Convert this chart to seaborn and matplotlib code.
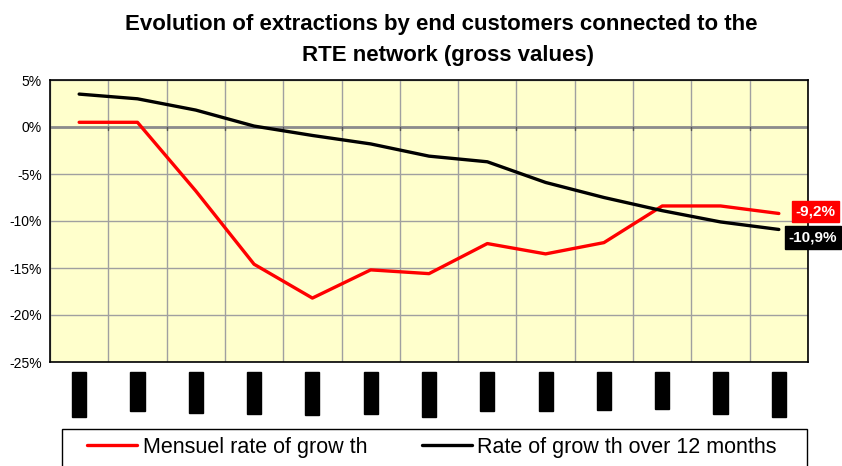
import numpy as np
import pandas as pd
import matplotlib
matplotlib.use("Agg")
import matplotlib.pyplot as plt
from matplotlib.patches import Rectangle
import seaborn as sns

months = ["sept.-08", "oct.-08", "nov.-08", "déc.-08", "janv.-09", "févr.-09", "mars-09",
          "avr.-09", "mai-09", "juin-09", "juil.-09", "août-09", "sept.-09"]
monthly_growth = [0.5, 0.5, -6.8, -14.6, -18.2, -15.2, -15.6, -12.4, -13.5, -12.3, -8.4, -8.4, -9.2]
growth_12m = [3.5, 3.0, 1.8, 0.1, -0.9, -1.8, -3.1, -3.7, -5.9, -7.5, -8.9, -10.1, -10.9]
series_names = ["Mensuel rate of grow th", "Rate of grow th over 12 months"]
yticks = [5, 0, -5, -10, -15, -20, -25]

sns.set_theme(style="white")
plt.rcParams["font.family"] = ["Liberation Sans", "DejaVu Sans"]
plt.rcParams["text.color"] = "black"
plt.rcParams["xtick.color"] = "black"
plt.rcParams["ytick.color"] = "black"

idx = np.arange(len(months))
df = pd.DataFrame({
    "x": np.concatenate([idx, idx]),
    "value": monthly_growth + growth_12m,
    "series": [series_names[0]] * len(months) + [series_names[1]] * len(months),
})

fig = plt.figure(figsize=(8.42, 4.66), dpi=100)
ax = fig.add_axes([50 / 842, 1 - 362 / 466, 758 / 842, 282 / 466])
ax.set_facecolor("#FFFFCC")

sns.lineplot(data=df, x="x", y="value", hue="series",
             palette={series_names[0]: "#FF0000", series_names[1]: "#000000"},
             linewidth=2.4, ax=ax, legend=False, zorder=3)

ax.set_xlim(-0.5, len(months) - 0.5)
ax.set_ylim(-25, 5)
ax.set_yticks(yticks)
ax.set_yticklabels([f"{v}%" for v in yticks], fontsize=10)
ax.set_xticks(idx)
ax.set_xticklabels(months, rotation=90, fontsize=8, va="top", color="black")
for lab in ax.get_xticklabels():
    lab.set_bbox(dict(facecolor="black", edgecolor="black", pad=1.5))
ax.set_xticks(np.arange(-0.5, len(months), 1), minor=True)
ax.tick_params(axis="x", which="major", length=0, pad=9)
ax.tick_params(axis="x", which="minor", length=0)
ax.tick_params(axis="y", length=0, pad=6)
ax.grid(False)
ax.xaxis.grid(True, which="minor", color="#A0A0A0", linewidth=1.0)
ax.yaxis.grid(True, which="major", color="#A0A0A0", linewidth=1.0)
ax.set_axisbelow(True)
ax.axhline(0, color="#8C8C8C", linewidth=2.0, zorder=2)
for b in np.arange(0.5, len(months) - 0.5, 1):
    ax.plot([b, b], [0, -0.35], color="#555555", lw=1.0, zorder=2)
for s in ax.spines.values():
    s.set_color("black")
    s.set_linewidth(1.2)
ax.set_xlabel("")
ax.set_ylabel("")

fig.text(441 / 842, 1 - 30 / 466, "Evolution of extractions by end customers connected to the",
         ha="center", va="baseline", fontsize=16, fontweight="bold")
fig.text(448 / 842, 1 - 61 / 466, "RTE network (gross values)",
         ha="center", va="baseline", fontsize=16, fontweight="bold")

ax.annotate(f"{monthly_growth[-1]:.1f}%".replace(".", ","),
            xy=(idx[-1], monthly_growth[-1]), xytext=(17, 2), textcoords="offset pixels",
            ha="left", va="center", color="white", fontsize=11, fontweight="bold",
            bbox=dict(facecolor="#FF0000", edgecolor="#FF0000", pad=2.5), annotation_clip=False, zorder=5)
ax.annotate(f"{growth_12m[-1]:.1f}%".replace(".", ","),
            xy=(idx[-1], growth_12m[-1]), xytext=(10, -8), textcoords="offset pixels",
            ha="left", va="center", color="white", fontsize=11, fontweight="bold",
            bbox=dict(facecolor="black", edgecolor="black", pad=3), annotation_clip=False, zorder=5)

# legend frame (extends past bottom edge as in the reference)
fig.patches.append(Rectangle((62 / 842, -0.05), (807 - 62) / 842, 0.05 + (466 - 429) / 466,
                             transform=fig.transFigure, facecolor="white", edgecolor="black",
                             linewidth=1.0, zorder=0))
handles = [plt.Line2D([], [], color="#FF0000", lw=2.4), plt.Line2D([], [], color="black", lw=2.4)]
leg = fig.legend(handles, series_names, loc="center left",
                 bbox_to_anchor=(87 / 842, 1 - 447 / 466),
                 ncol=2, fontsize=15.5, frameon=False,
                 handlelength=2.33, borderpad=0, handletextpad=0.25, columnspacing=2.55,
                 borderaxespad=0)

fig.savefig("out.png", dpi=100)
